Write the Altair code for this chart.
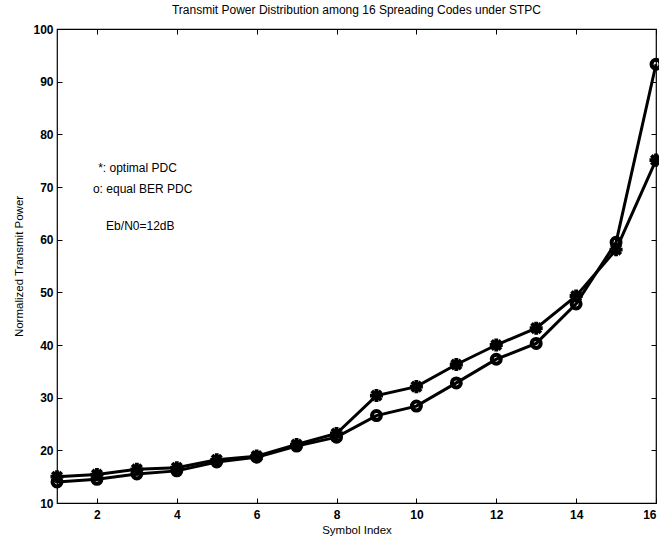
import altair as alt
import pandas as pd

symbol_index = list(range(1, 17))
optimal_pdc = [15.0, 15.4, 16.4, 16.7, 18.2, 18.9, 21.1, 23.2, 30.4, 32.1, 36.3, 40.0, 43.2, 49.3, 58.1, 75.1]
equal_ber_pdc = [14.0, 14.5, 15.5, 16.1, 17.8, 18.7, 20.8, 22.5, 26.6, 28.4, 32.8, 37.3, 40.3, 47.8, 59.5, 93.3]

x_ticks = [2, 4, 6, 8, 10, 12, 14, 16]
y_ticks = [10, 20, 30, 40, 50, 60, 70, 80, 90, 100]

note_text = ["*: optimal PDC", "o: equal BER PDC", "Eb/N0=12dB"]
note_x = [2.03, 1.9, 2.23]
note_y = [73.6, 69.6, 62.6]

df = pd.DataFrame({
    "x": symbol_index * 2,
    "y": optimal_pdc + equal_ber_pdc,
    "series": ["optimal"] * 16 + ["equal"] * 16,
})
df_opt = df[df.series == "optimal"]
df_eq = df[df.series == "equal"]
notes = pd.DataFrame({"t": note_text, "x": note_x, "y": note_y})

FONT = "Liberation Sans"
xscale = alt.Scale(domain=[1, 16], nice=False, zero=False)
yscale = alt.Scale(domain=[10, 100], nice=False, zero=False)

ax_bottom = alt.Axis(orient="bottom", values=x_ticks, title="Symbol Index", grid=False,
                     domain=False, offset=-5, tickSize=5, tickColor="black", tickWidth=1,
                     labelPadding=6, labelFont=FONT, labelFontSize=12, labelFontWeight="bold",
                     labelColor="black", labelOverlap=False, labelFlush=True, labelBound=False,
                     titleFont=FONT, titleFontSize=11.5, titleFontWeight="normal",
                     titleColor="black", titlePadding=4)
ax_left = alt.Axis(orient="left", values=y_ticks, title="Normalized Transmit Power", grid=False,
                   domain=False, offset=-5, tickSize=5, tickColor="black", tickWidth=1,
                   labelPadding=4, labelFont=FONT, labelFontSize=12, labelFontWeight="bold",
                   labelColor="black", labelOverlap=False, labelFlush=False, labelBound=False,
                   titleFont=FONT, titleFontSize=11.5, titleFontWeight="normal",
                   titleColor="black", titlePadding=8)
ax_top = alt.Axis(orient="top", values=x_ticks, title=None, labels=False, grid=False,
                  domain=False, offset=-5, tickSize=5, tickColor="black", tickWidth=1)
ax_right = alt.Axis(orient="right", values=y_ticks, title=None, labels=False, grid=False,
                    domain=False, offset=-5, tickSize=5, tickColor="black", tickWidth=1)

lines = alt.Chart(df).mark_line(color="black", strokeWidth=3).encode(
    x=alt.X("x:Q", scale=xscale, axis=ax_bottom),
    y=alt.Y("y:Q", scale=yscale, axis=ax_left),
    detail="series:N",
)

asterisk = "M0,-1L0,1M-1,0L1,0M-0.72,-0.72L0.72,0.72M-0.72,0.72L0.72,-0.72"
pts_opt = alt.Chart(df_opt).mark_point(shape=asterisk, color="black", strokeWidth=3.8,
                                       size=170, filled=False, opacity=1).encode(
    x=alt.X("x:Q", scale=xscale, axis=ax_top),
    y=alt.Y("y:Q", scale=yscale, axis=ax_right),
)
pts_eq = alt.Chart(df_eq).mark_point(shape="circle", color="black", strokeWidth=4,
                                     size=80, filled=False, opacity=1).encode(
    x=alt.X("x:Q", scale=xscale, axis=None),
    y=alt.Y("y:Q", scale=yscale, axis=None),
)
texts = alt.Chart(notes).mark_text(align="left", baseline="middle", font=FONT,
                                   fontSize=12, color="black").encode(
    x=alt.X("x:Q", scale=xscale, axis=None),
    y=alt.Y("y:Q", scale=yscale, axis=None),
    text="t:N",
)

chart = alt.layer(lines, pts_opt, pts_eq, texts).resolve_axis(
    x="independent", y="independent"
).properties(
    width=599, height=474,
    autosize=alt.AutoSizeParams(type="none"),
    padding={"left": 57, "top": 29, "right": 3, "bottom": 38},
    background="white",
    title=alt.TitleParams("Transmit Power Distribution among 16 Spreading Codes under STPC",
                          font=FONT, fontSize=12, fontWeight="normal", color="black",
                          anchor="middle", offset=6),
).configure_view(stroke="black", strokeWidth=1.2)

chart.save("out.html", embed_options={"renderer": "svg", "actions": False})
